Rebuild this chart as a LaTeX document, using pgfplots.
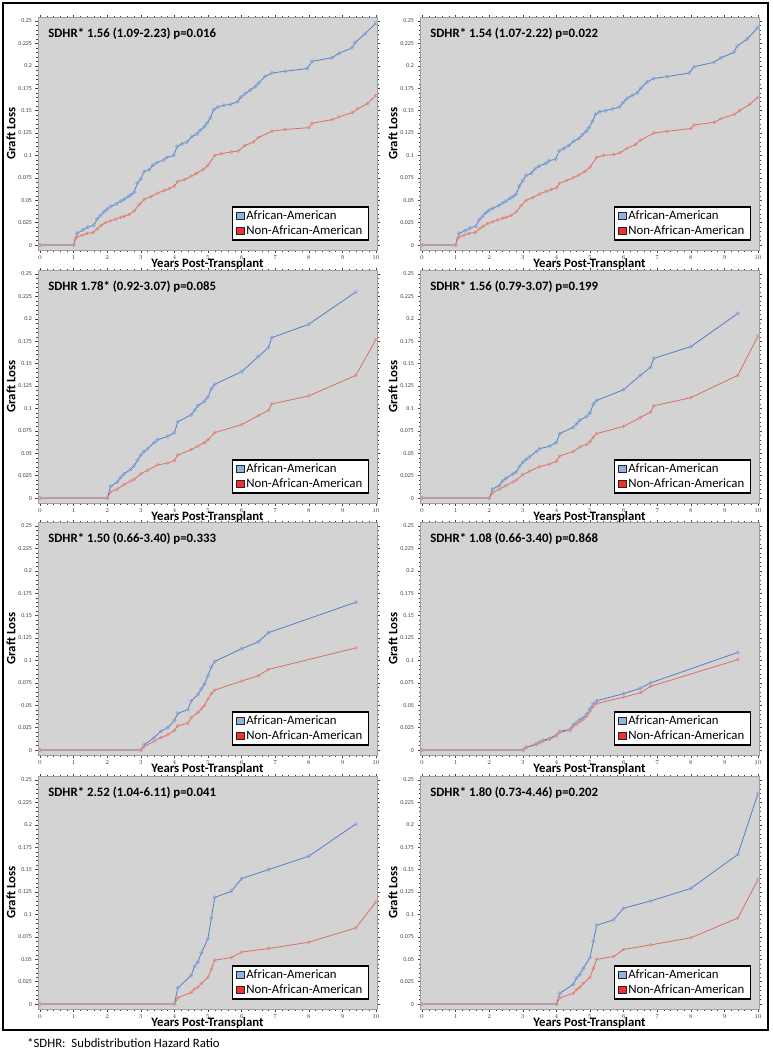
\documentclass[border=0pt]{standalone}
\usepackage{fontspec}
\setmainfont{Carlito}
\usepackage{pgfplots}
\pgfplotsset{compat=1.18}
\definecolor{bgc}{RGB}{211,211,211}
\definecolor{bline}{RGB}{84,126,196}
\definecolor{bmark}{RGB}{140,172,222}
\definecolor{rline}{RGB}{214,112,102}
\definecolor{rmark}{RGB}{228,145,135}
\definecolor{legb}{RGB}{141,180,226}
\definecolor{legr}{RGB}{250,45,45}
\newcommand\fs{\fontsize{12.8}{14.5}\selectfont}
\pgfplotsset{
 panel/.style={
  scale only axis, width=339pt, height=233pt,
  xmin=-0.06, xmax=10.03, ymin=-0.0055, ymax=0.2545,
  axis background/.style={fill=bgc},
  axis line style={draw=gray!75},
  xtick={0,1,2,3,4,5,6,7,8,9,10}, minor x tick num=4,
  ytick={0,0.025,0.05,0.075,0.1,0.125,0.15,0.175,0.2,0.225,0.25},
  yticklabels={0,0.025,0.05,0.075,0.1,0.125,0.15,0.175,0.2,0.225,0.25},
  minor y tick num=4,
  tick align=outside, major tick length=2.5pt, minor tick length=1.5pt,
  tick style={draw=gray!50!black, line width=0.4pt},
  ticklabel style={font=\fontsize{6}{7}\selectfont, text=black!75},
  xlabel={Years Post-Transplant}, ylabel={Graft Loss},
  label style={font=\fs\bfseries},
  xlabel style={yshift=8pt},
  ylabel style={yshift=-4pt},
  legend style={at={(0.976,0.04)}, anchor=south east, draw=black, line width=1.2pt,
     fill=white, font=\fs, row sep=0.5pt, inner xsep=4pt, inner ysep=2pt},
  legend cell align=left,
  legend image code/.code={\draw[#1,line width=0.7pt] (0pt,-3.7pt) rectangle (7.4pt,3.7pt);},
 },
 bl/.style={color=bline, line width=0.8pt, mark=o, mark size=1.8pt, mark options={draw=bmark, line width=0.6pt}},
 rl/.style={color=rline, line width=0.8pt, mark=o, mark size=1.5pt, mark options={draw=rmark, line width=0.6pt}},
}
\newcommand\leg{%
 \addlegendimage{draw=black!85, fill=legb}\addlegendentry{African-American}
 \addlegendimage{draw=black!85, fill=legr}\addlegendentry{Non-African-American}}
\newcommand\ann[1]{\node[anchor=west, font=\fs\bfseries, inner sep=0pt] at (rel axis cs:0.03,0.93) {#1};}
\begin{document}
\begin{tikzpicture}
\useasboundingbox (0pt,0pt) rectangle (772pt,-1050pt);
\draw[line width=1.8pt] (3pt,-3pt) rectangle (768pt,-1030pt);
\node[anchor=west, font=\fs, inner sep=0pt] at (27pt,-1043pt) {*SDHR:\ \ Subdistribution Hazard Ratio};

% ---------- Panel 1 ----------
\begin{axis}[panel, at={(38pt,-17pt)}, anchor=north west]
\leg
\addplot[bl] coordinates {(0,0)(1,0)(1.1,0.013)(1.28,0.017)(1.42,0.020)(1.6,0.022)(1.7,0.029)(1.8,0.033)(1.9,0.037)(2.0,0.040)(2.1,0.043)(2.28,0.046)(2.4,0.049)(2.5,0.051)(2.62,0.054)(2.7,0.056)(2.8,0.059)(2.9,0.069)(3.0,0.074)(3.1,0.082)(3.25,0.084)(3.36,0.089)(3.48,0.092)(3.68,0.095)(3.78,0.098)(3.98,0.100)(4.08,0.110)(4.23,0.113)(4.37,0.115)(4.52,0.121)(4.67,0.124)(4.77,0.128)(4.89,0.132)(4.97,0.136)(5.07,0.142)(5.17,0.151)(5.29,0.154)(5.47,0.156)(5.67,0.157)(5.88,0.160)(5.98,0.165)(6.11,0.169)(6.26,0.173)(6.41,0.177)(6.51,0.181)(6.7,0.188)(6.9,0.192)(7.3,0.194)(7.95,0.197)(8.1,0.205)(8.69,0.209)(8.9,0.214)(9.28,0.220)(9.38,0.226)(9.68,0.236)(10,0.248)};
\addplot[rl] coordinates {(0,0)(1,0)(1.05,0.007)(1.1,0.009)(1.25,0.011)(1.4,0.013)(1.58,0.014)(1.7,0.018)(1.82,0.022)(1.95,0.025)(2.1,0.027)(2.25,0.029)(2.4,0.031)(2.5,0.032)(2.65,0.034)(2.8,0.038)(2.95,0.045)(3.1,0.051)(3.3,0.054)(3.5,0.058)(3.7,0.061)(3.85,0.063)(4.0,0.066)(4.1,0.071)(4.3,0.073)(4.5,0.077)(4.65,0.080)(4.85,0.084)(5.0,0.089)(5.2,0.100)(5.4,0.102)(5.7,0.104)(5.9,0.105)(6.1,0.111)(6.35,0.115)(6.5,0.120)(6.9,0.127)(7.3,0.129)(8.0,0.131)(8.1,0.136)(8.7,0.140)(8.9,0.143)(9.3,0.148)(9.45,0.152)(9.75,0.158)(10,0.167)};
\ann{SDHR* 1.56 (1.09-2.23) p=0.016}
\end{axis}

% ---------- Panel 2 ----------
\begin{axis}[panel, at={(420pt,-17pt)}, anchor=north west]
\leg
\addplot[bl] coordinates {(0,0)(1,0)(1.1,0.013)(1.28,0.016)(1.42,0.019)(1.6,0.021)(1.7,0.028)(1.8,0.032)(1.9,0.036)(2.0,0.039)(2.1,0.041)(2.28,0.044)(2.4,0.047)(2.5,0.049)(2.62,0.052)(2.7,0.054)(2.8,0.057)(2.9,0.066)(3.0,0.072)(3.1,0.078)(3.25,0.080)(3.36,0.085)(3.48,0.088)(3.68,0.091)(3.78,0.094)(3.98,0.096)(4.08,0.105)(4.23,0.108)(4.37,0.111)(4.52,0.116)(4.67,0.119)(4.77,0.123)(4.89,0.127)(4.97,0.131)(5.07,0.138)(5.17,0.146)(5.29,0.149)(5.47,0.150)(5.67,0.152)(5.88,0.154)(5.98,0.159)(6.11,0.164)(6.26,0.167)(6.41,0.170)(6.51,0.175)(6.7,0.182)(6.9,0.186)(7.3,0.188)(7.95,0.192)(8.1,0.199)(8.69,0.204)(8.9,0.209)(9.28,0.215)(9.38,0.222)(9.68,0.230)(10,0.243)};
\addplot[rl] coordinates {(0,0)(1,0)(1.05,0.007)(1.1,0.009)(1.25,0.011)(1.4,0.013)(1.58,0.014)(1.7,0.018)(1.82,0.021)(1.95,0.024)(2.1,0.026)(2.25,0.028)(2.4,0.030)(2.5,0.031)(2.65,0.033)(2.8,0.037)(2.95,0.044)(3.1,0.050)(3.3,0.053)(3.5,0.057)(3.7,0.060)(3.85,0.062)(4.0,0.064)(4.1,0.069)(4.3,0.072)(4.5,0.075)(4.65,0.078)(4.85,0.082)(5.0,0.087)(5.2,0.098)(5.4,0.100)(5.7,0.101)(5.9,0.103)(6.1,0.108)(6.35,0.112)(6.5,0.117)(6.9,0.125)(7.3,0.127)(8.0,0.130)(8.1,0.134)(8.7,0.137)(8.9,0.141)(9.3,0.146)(9.45,0.150)(9.75,0.157)(10,0.165)};
\ann{SDHR* 1.54 (1.07-2.22) p=0.022}
\end{axis}

% ---------- Panel 3 ----------
\begin{axis}[panel, at={(38pt,-270pt)}, anchor=north west]
\leg
\addplot[bl] coordinates {(0,0)(2,0)(2.1,0.013)(2.3,0.018)(2.4,0.023)(2.5,0.027)(2.7,0.032)(2.8,0.036)(2.9,0.042)(3.0,0.048)(3.1,0.052)(3.2,0.055)(3.4,0.062)(3.5,0.065)(3.8,0.069)(4.0,0.073)(4.1,0.085)(4.5,0.093)(4.6,0.098)(4.7,0.103)(4.9,0.108)(5.0,0.113)(5.1,0.122)(5.2,0.127)(6.0,0.141)(6.5,0.158)(6.8,0.168)(6.9,0.179)(8.0,0.194)(9.4,0.230)};
\addplot[rl] coordinates {(0,0)(2,0)(2.1,0.007)(2.3,0.010)(2.5,0.015)(2.7,0.019)(2.8,0.021)(3.0,0.027)(3.2,0.031)(3.5,0.037)(3.8,0.039)(4.0,0.042)(4.1,0.048)(4.5,0.054)(4.7,0.058)(4.9,0.062)(5.0,0.065)(5.2,0.073)(6.0,0.082)(6.5,0.092)(6.8,0.098)(6.9,0.105)(8.0,0.114)(9.4,0.137)(10,0.177)};
\ann{SDHR 1.78* (0.92-3.07) p=0.085}
\end{axis}

% ---------- Panel 4 ----------
\begin{axis}[panel, at={(420pt,-270pt)}, anchor=north west]
\leg
\addplot[bl] coordinates {(0,0)(2,0)(2.1,0.010)(2.3,0.014)(2.4,0.019)(2.5,0.022)(2.7,0.027)(2.8,0.029)(2.9,0.035)(3.0,0.040)(3.1,0.043)(3.2,0.046)(3.4,0.052)(3.5,0.055)(3.8,0.058)(4.0,0.062)(4.1,0.072)(4.5,0.079)(4.6,0.083)(4.7,0.087)(4.9,0.091)(5.0,0.095)(5.1,0.105)(5.2,0.109)(6.0,0.121)(6.5,0.137)(6.8,0.146)(6.9,0.156)(8.0,0.169)(9.4,0.206)};
\addplot[rl] coordinates {(0,0)(2,0)(2.1,0.006)(2.3,0.010)(2.5,0.014)(2.7,0.018)(2.8,0.020)(3.0,0.026)(3.2,0.030)(3.5,0.035)(3.8,0.038)(4.0,0.041)(4.1,0.047)(4.5,0.052)(4.7,0.057)(4.9,0.060)(5.0,0.063)(5.1,0.068)(5.2,0.072)(6.0,0.080)(6.5,0.090)(6.8,0.096)(6.9,0.103)(8.0,0.112)(9.4,0.137)(10,0.181)};
\ann{SDHR* 1.56 (0.79-3.07) p=0.199}
\end{axis}

% ---------- Panel 5 ----------
\begin{axis}[panel, at={(38pt,-522pt)}, anchor=north west]
\leg
\addplot[bl] coordinates {(0,0)(3,0)(3.1,0.006)(3.4,0.014)(3.6,0.021)(3.8,0.025)(4.0,0.033)(4.1,0.041)(4.4,0.045)(4.5,0.055)(4.7,0.062)(4.8,0.068)(4.9,0.074)(5.0,0.083)(5.1,0.093)(5.2,0.099)(6.0,0.113)(6.5,0.121)(6.8,0.131)(9.4,0.165)};
\addplot[rl] coordinates {(0,0)(3,0)(3.1,0.004)(3.4,0.010)(3.6,0.014)(3.8,0.017)(4.0,0.022)(4.1,0.027)(4.4,0.030)(4.5,0.036)(4.7,0.042)(4.8,0.046)(4.9,0.050)(5.0,0.057)(5.1,0.063)(5.2,0.067)(6.0,0.077)(6.5,0.083)(6.8,0.090)(9.4,0.114)};
\ann{SDHR* 1.50 (0.66-3.40) p=0.333}
\end{axis}

% ---------- Panel 6 ----------
\begin{axis}[panel, at={(420pt,-522pt)}, anchor=north west]
\leg
\addplot[bl] coordinates {(0,0)(3,0)(3.1,0.003)(3.4,0.007)(3.5,0.009)(3.6,0.011)(3.8,0.013)(4.0,0.017)(4.1,0.021)(4.4,0.023)(4.5,0.028)(4.6,0.031)(4.7,0.034)(4.8,0.036)(4.9,0.040)(5.0,0.046)(5.1,0.052)(5.2,0.055)(6.0,0.063)(6.5,0.069)(6.8,0.075)(9.4,0.109)};
\addplot[rl] coordinates {(0,0)(3,0)(3.1,0.003)(3.4,0.006)(3.5,0.008)(3.6,0.010)(3.8,0.012)(4.0,0.016)(4.1,0.020)(4.4,0.022)(4.5,0.026)(4.6,0.029)(4.7,0.032)(4.8,0.034)(4.9,0.038)(5.0,0.043)(5.1,0.049)(5.2,0.052)(6.0,0.059)(6.5,0.064)(6.8,0.071)(9.4,0.101)};
\ann{SDHR* 1.08 (0.66-3.40) p=0.868}
\end{axis}

% ---------- Panel 7 ----------
\begin{axis}[panel, at={(38pt,-776pt)}, anchor=north west]
\leg
\addplot[bl] coordinates {(0,0)(4,0)(4.1,0.018)(4.5,0.032)(4.6,0.042)(4.7,0.047)(4.8,0.057)(5.0,0.073)(5.1,0.096)(5.2,0.119)(5.7,0.126)(6.0,0.140)(6.8,0.150)(8.0,0.165)(9.4,0.201)};
\addplot[rl] coordinates {(0,0)(4,0)(4.1,0.007)(4.5,0.013)(4.6,0.017)(4.7,0.019)(4.8,0.023)(5.0,0.030)(5.1,0.039)(5.2,0.049)(5.7,0.052)(6.0,0.058)(6.8,0.062)(8.0,0.069)(9.4,0.085)(10,0.114)};
\ann{SDHR* 2.52 (1.04-6.11) p=0.041}
\end{axis}

% ---------- Panel 8 ----------
\begin{axis}[panel, at={(420pt,-776pt)}, anchor=north west]
\leg
\addplot[bl] coordinates {(0,0)(4,0)(4.1,0.012)(4.5,0.022)(4.6,0.029)(4.7,0.033)(4.8,0.040)(5.0,0.052)(5.1,0.070)(5.2,0.088)(5.7,0.094)(6.0,0.107)(6.8,0.115)(8.0,0.129)(9.4,0.167)(10,0.235)};
\addplot[rl] coordinates {(0,0)(4,0)(4.1,0.007)(4.5,0.012)(4.6,0.016)(4.7,0.019)(4.8,0.023)(5.0,0.030)(5.1,0.040)(5.2,0.050)(5.7,0.053)(6.0,0.061)(6.8,0.066)(8.0,0.074)(9.4,0.096)(10,0.139)};
\ann{SDHR* 1.80 (0.73-4.46) p=0.202}
\end{axis}
\end{tikzpicture}
\end{document}
